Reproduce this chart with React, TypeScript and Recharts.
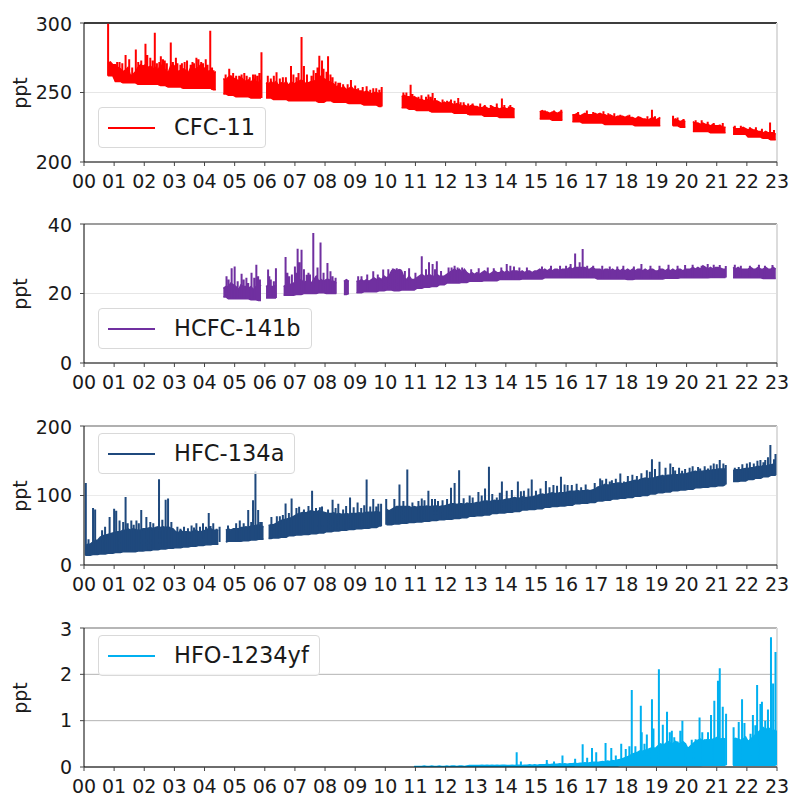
import React from "react";
import { ComposedChart, Area, Line, XAxis, YAxis, CartesianGrid, ReferenceLine } from "recharts";

const n = null;

const yearTicks = [2000, 2001, 2002, 2003, 2004, 2005, 2006, 2007, 2008, 2009, 2010, 2011, 2012, 2013, 2014, 2015, 2016, 2017, 2018, 2019, 2020, 2021, 2022, 2023];

// monthly upper edge of the dense band (null = no data), one row per year 2000..2022
const cfc11Top = [
  n, n, n, n, n, n, n, n, n, 271, 272, 270,
  270, 268, 267, 265, 266, 268, 262, 263, 265, 268, 270, 269,
  270, 268, 269, 267, 268, 266, 270, 268, 266, 264, 269, 270,
  268, 265, 266, 267, 266, 264, 268, 266, 267, 268, 270, 267,
  268, 265, 266, 264, 265, n, n, 260, 259, 261, 262, 260,
  260, 258, 261, 259, 258, 259, 257, 260, 258, 257, 259, n,
  257, 256, 258, 256, 258, 255, 257, 256, 258, 255, 258, 256,
  257, 258, 259, 258, 256, 257, 258, 258, 259, 260, 262, 260,
  259, 258, 257, 256, 254, 255, 253, 254, 252, 253, 254, 252,
  252, 251, 251, 250, 251, 250, 249, 250, 250, 249, 250, n,
  n, n, n, n, n, n, 247, 248, 247, 247, 246, 247,
  246, 245, 245, 244, 245, 244, 245, 243, 244, 243, 242, 243,
  242, 243, 242, 241, 242, 241, 240, 241, 240, 240, 241, 240,
  240, 239, 239, 240, 239, 238, 240, 239, 239, 238, 239, 239,
  238, 239, 239, 238, n, n, n, n, n, n, n, n,
  n, 236, 237, 236, 236, 235, 236, 236, 235, 236, 236, n,
  n, n, 234, 234, 235, 233, 234, 235, 234, 234, 234, 235,
  234, 235, 234, 234, 233, 234, 233, 232, 233, 233, 233, 232,
  233, 232, 232, 231, 232, 232, 231, 231, 230, 231, 232, 230,
  231, 232, n, n, n, n, 230, 231, 230, 229, 230, 229,
  n, n, 229, 228, 228, 227, 228, 227, 227, 226, 227, 226,
  226, 226, 225, 225, n, n, 225, 224, 224, 224, 225, 224,
  223, 224, 223, 223, 222, 222, 221, 222, 221, 221, 221, 220,
];

// quarterly lower edge of the band
const cfc11Low = [
  n, n, n, 262,
  258, 257, 257, 256,
  256, 256, 255, 254,
  254, 253, 253, 253,
  253, 252, 249, 248,
  247, 247, 246, 246,
  246, 245, 245, 244,
  244, 244, 244, 243,
  244, 243, 243, 242,
  242, 241, 241, 240,
  n, n, 239, 238,
  237, 237, 236, 236,
  236, 235, 235, 234,
  234, 233, 233, 232,
  232, 232, n, n,
  231, 231, 230, 230,
  229, 229, 228, 228,
  228, 227, 227, 227,
  227, 226, 226, 226,
  226, n, 226, 225,
  222, 222, 222, 221,
  221, 221, 220, 220,
  218, 218, 217, 216,
];

// [year, peak ppt]
const cfc11Spikes: [number, number][] = [
  [2000.80, 299.5], [2001.05, 270], [2001.10, 272], [2001.18, 272], [2001.27, 271], [2001.38, 277], [2001.50, 274],
  [2001.60, 268], [2001.72, 281], [2001.80, 272], [2001.90, 273], [2002.04, 285], [2002.10, 277], [2002.20, 275],
  [2002.28, 273], [2002.35, 293], [2002.42, 271], [2002.50, 272], [2002.55, 276], [2002.62, 274], [2002.68, 273],
  [2002.75, 271], [2002.88, 286], [2002.95, 272], [2003.05, 275], [2003.10, 271], [2003.20, 270], [2003.25, 271],
  [2003.34, 272], [2003.42, 273], [2003.54, 270], [2003.60, 272], [2003.65, 271], [2003.73, 275], [2003.80, 274],
  [2003.89, 272], [2003.95, 271], [2004.04, 274], [2004.10, 270], [2004.19, 294.5], [2004.25, 268], [2004.30, 266],
  [2004.70, 263], [2004.82, 267], [2004.95, 264], [2005.05, 262], [2005.15, 262], [2005.23, 263], [2005.32, 264],
  [2005.40, 262], [2005.50, 261], [2005.61, 263], [2005.68, 263], [2005.75, 262], [2005.82, 264], [2005.89, 279],
  [2006.10, 262], [2006.20, 260], [2006.30, 262], [2006.39, 264.5], [2006.50, 260], [2006.60, 261], [2006.70, 261],
  [2006.87, 269], [2006.95, 263], [2007.05, 261], [2007.12, 264], [2007.22, 290], [2007.30, 269], [2007.40, 263],
  [2007.55, 262], [2007.62, 266], [2007.70, 264], [2007.75, 268], [2007.81, 276.5], [2007.90, 273], [2007.95, 267],
  [2008.05, 265], [2008.10, 276], [2008.18, 263], [2008.25, 261], [2008.35, 258], [2008.44, 257], [2008.50, 257],
  [2008.60, 256], [2008.75, 256], [2008.86, 259], [2009.00, 255], [2009.10, 253], [2009.25, 254], [2009.38, 254.5],
  [2009.50, 252], [2009.60, 253], [2009.70, 253], [2009.80, 252], [2009.88, 254], [2010.60, 250], [2010.70, 250],
  [2010.84, 255.6], [2010.90, 249], [2011.10, 247], [2011.20, 248], [2011.35, 247], [2011.43, 248.5], [2011.50, 247],
  [2011.57, 249.6], [2011.65, 246], [2011.74, 243.6], [2011.90, 245], [2012.05, 244], [2012.18, 245], [2012.30, 244],
  [2012.42, 246], [2012.50, 243], [2012.60, 243], [2012.75, 242], [2012.90, 242], [2013.15, 242], [2013.30, 241],
  [2013.50, 241], [2013.70, 242], [2013.87, 245.6], [2013.95, 241], [2014.10, 240], [2014.15, 241], [2015.30, 237],
  [2015.60, 237], [2015.84, 237.6], [2016.40, 236], [2016.69, 237], [2016.90, 236], [2017.10, 235], [2017.24, 236.5],
  [2017.40, 235], [2017.60, 235], [2017.80, 234], [2018.10, 234], [2018.40, 233], [2018.70, 233], [2018.85, 237.6],
  [2018.95, 233], [2019.55, 233.3], [2019.70, 232], [2019.90, 231], [2020.30, 230], [2020.50, 230], [2020.70, 229],
  [2020.90, 228], [2021.10, 227], [2021.20, 228], [2021.60, 226], [2021.80, 226], [2022.10, 225], [2022.30, 225],
  [2022.50, 224], [2022.77, 228.5], [2022.90, 223],
];

const hcfc141bTop = [
  n, n, n, n, n, n, n, n, n, n, n, n,
  n, n, n, n, n, n, n, n, n, n, n, n,
  n, n, n, n, n, n, n, n, n, n, n, n,
  n, n, n, n, n, n, n, n, n, n, n, n,
  n, n, n, n, n, n, n, 21.5, 22, 22, 23, 22.5,
  22, 21, 22.5, 22, 22, 21.5, 22, 21, 22, 22, 22.5, n,
  22, 22.5, 22, 22, 22.5, n, n, 22, 22.5, 23, 22.5, 23,
  23, 23.5, 24, 23, 23.5, 23.5, 23, 24, 25, 23.5, 24, 23.5,
  24, 24, 23.5, 23.5, 23, n, n, 23.5, 24, 23.5, n, n,
  23.5, 23.5, 24, 23.5, 24, 23.5, 24, 24.5, 24, 24.5, 24, 25,
  24.5, 25, 26.5, 26.9, 26.5, 26.9, 26.5, 24.5, 24, 25, 24, 24,
  24.5, 25, 25.5, 25, 25, 25.5, 25, 25, 25.5, 25, 25, 25,
  25.5, 26, 26.5, 27, 26.5, 27, 26, 27, 26, 25.5, 26, 25.5,
  26, 25.5, 26, 26.5, 26, 25.5, 26, 26.5, 26, 26, 26.5, 26,
  26.5, 26, 26.5, 26.5, 26.5, 26, 26.5, 26, 26.5, 26.5, 26, 26.5,
  26.5, 27, 26.5, 27, 26.5, 27, 26.5, 27, 27, 26.5, 27, 27,
  27, 27.5, 27, 27.5, 27.5, 27.5, 27.5, 27.5, 27, 27, 27.5, 27,
  27, 27, 26.5, 27, 27, 26.5, 27, 26.5, 27, 26.5, 27, 26.5,
  27, 26.5, 27, 26.5, 27, 27, 26.5, 27, 26.5, 27, 27, 26.5,
  26.5, 27, 27, 26.5, 27, 26.5, 27, 26.5, 27, 27, 26.5, 27,
  27, 27, 27.5, 27, 27.5, 27, 28, 27.5, 27, 27.5, 27, 27.5,
  27.5, 27.3, 27, 27, n, n, 27.5, 27, 27.5, 27, 27, 27,
  27, 27.5, 27, 27, 27.5, 27, 27, 27.5, 27, 27, 27.5, 27,
];

const hcfc141bLow = [
  n, n, n, n,
  n, n, n, n,
  n, n, n, n,
  n, n, n, n,
  n, n, 19, 18.5,
  18.5, 18.5, 18.2, 18,
  18.7, 18.7, 19.5, 19.5,
  19.7, 20, 20, 20.2,
  20, 20, 19.7, 20,
  20.2, 20.5, 20.5, 20.8,
  21, 20.8, 21, 21,
  21.5, 21.8, 22, 22.5,
  23, 23, 23.2, 23.5,
  23.5, 23.7, 23.7, 24,
  24, 24, 24.2, 24.2,
  24.2, 24.5, 24.5, 24.5,
  24.5, 24.5, 24.5, 24.5,
  24.2, 24.2, 24.2, 24.2,
  24, 24.2, 24.2, 24.2,
  24.2, 24.4, 24.4, 24.5,
  24.5, 24.5, 24.5, 24.6,
  24.6, 24.6, 24.5, 24.5,
  24.5, 24.5, 24.3, 24.3,
];

const hcfc141bSpikes: [number, number][] = [
  [2004.73, 25], [2004.80, 24], [2004.90, 27.3], [2005.00, 27.8], [2005.10, 23.5], [2005.23, 25.7], [2005.30, 24],
  [2005.39, 24.5], [2005.45, 23], [2005.56, 26], [2005.65, 24.5], [2005.72, 28.3], [2005.78, 25], [2005.84, 24],
  [2006.11, 26.9], [2006.15, 25], [2006.20, 24], [2006.30, 23.5], [2006.37, 27.3], [2006.69, 30.5], [2006.75, 26],
  [2006.81, 25], [2006.90, 25.5], [2007.00, 27.8], [2007.05, 26], [2007.09, 32.9], [2007.15, 29], [2007.22, 32.6],
  [2007.30, 27], [2007.39, 25.4], [2007.45, 26], [2007.50, 25.5], [2007.61, 37.4], [2007.70, 25], [2007.75, 27.5],
  [2007.85, 34.7], [2007.95, 26], [2008.08, 28.8], [2008.18, 26.4], [2008.25, 25], [2008.35, 24.5], [2009.10, 25],
  [2009.21, 25], [2009.40, 25.5], [2009.60, 26.4], [2009.75, 25.5], [2009.93, 26.9], [2010.10, 27], [2010.25, 27.2],
  [2010.38, 27.3], [2010.50, 27], [2010.65, 26.5], [2010.79, 27.3], [2011.00, 26], [2011.21, 30.7], [2011.35, 27],
  [2011.45, 29], [2011.57, 28.5], [2011.65, 27], [2011.71, 29.3], [2011.85, 26.5], [2012.10, 27.5], [2012.20, 27.5],
  [2012.30, 28], [2012.40, 27.5], [2012.55, 27.5], [2012.85, 27], [2013.10, 27.3], [2013.40, 27.5], [2013.60, 27.3],
  [2013.85, 27.5], [2014.03, 28.5], [2014.15, 28], [2014.27, 27.8], [2014.45, 27.5], [2014.70, 27.5], [2015.20, 27.8],
  [2015.50, 28], [2015.80, 28], [2016.00, 28], [2016.15, 28.5], [2016.30, 31.5], [2016.45, 29], [2016.55, 32.8],
  [2016.70, 28], [2016.90, 28], [2017.20, 28], [2017.45, 27.8], [2017.70, 27.8], [2017.90, 28], [2018.25, 27.8],
  [2018.50, 28.5], [2018.80, 28], [2019.10, 28], [2019.40, 28.3], [2019.70, 28], [2019.95, 28.2], [2020.20, 28.3],
  [2020.50, 28], [2020.70, 28.5], [2020.90, 28.3], [2021.10, 28.2], [2021.30, 27.9], [2021.60, 28.3], [2021.80, 28],
  [2022.10, 28], [2022.40, 28.3], [2022.60, 28], [2022.85, 28.2],
];

const hfc134aTop = [
  28, 30, 30, 33, 35, 36, 40, 42, 43, 44, 45, 46,
  47, 48, 48, 50, 50, 52, 50, 52, 51, 50, 50, 52,
  52, 53, 54, 52, 54, 55, 54, 55, 54, 55, 53, 52,
  48, 46, 50, 47, 48, 48, 47, 49, 50, 48, 48, 49,
  50, 52, 52, 50, 50, 50, n, n, 50, 52, 50, 52,
  52, 52, 54, 54, 55, 54, 56, 56, 57, 58, 56, 55,
  n, 57, 58, 58, 60, 62, 64, 65, 66, 67, 68, 70,
  72, 74, 75, 76, 75, 77, 78, 77, 76, 78, 77, 76,
  75, 74, 74, 75, 73, 74, 73, 73, 74, 73, 74, 74,
  74, 75, 74, 75, 76, 76, 76, 76, 77, 76, 76, n,
  80, 78, 80, 82, 84, 84, 84, 84, 84, 84, 82, 84,
  83, 84, 84, 84, 85, 84, 84, 85, 85, 84, 85, 85,
  86, 87, 88, 88, 87, 88, 88, 87, 89, 88, 88, 89,
  90, 90, 91, 92, 92, 91, 92, 93, 92, 93, 93, 94,
  95, 95, 96, 97, 96, 96, 98, 97, 97, 98, 98, 99,
  100, 101, 102, 101, 102, 103, 104, 103, 103, 104, 104, 104,
  105, 106, 106, 106, 107, 106, 107, 107, 108, 107, 108, 109,
  112, 113, 114, 116, 115, 115, 117, 117, 118, 118, 117, 118,
  119, 120, 121, 122, 121, 123, 124, 125, 124, 125, 125, 126,
  127, 128, 128, 128, 129, 129, 130, 130, 130, 131, 131, 131,
  132, 133, 134, 134, 134, 135, 135, 136, 136, 136, 137, 137,
  138, 138, 138, 138, n, n, 136, 137, 137, 137, 138, 139,
  139, 140, 140, 141, 142, 141, 143, 142, 144, 144, 145, 145,
];

const hfc134aLow = [
  14, 15, 16, 17,
  18, 19, 19, 20,
  21, 22, 23, 24,
  25, 26, 27, 28,
  29, 30, 33, 34,
  34, 35, 36, 37,
  38, 39, 40, 42,
  43, 44, 45, 46,
  48, 49, 50, 51,
  52, 53, 54, 56,
  58, 59, 60, 61,
  62, 63, 64, 65,
  66, 67, 68, 70,
  71, 72, 74, 75,
  76, 77, 79, 80,
  81, 83, 84, 85,
  86, 88, 89, 90,
  92, 93, 95, 96,
  97, 99, 100, 102,
  104, 105, 107, 108,
  109, 111, 112, 113,
  114, 116, 120, 121,
  123, 125, 127, 129,
];

const hfc134aSpikes: [number, number][] = [
  [2000.06, 118], [2000.15, 37], [2000.30, 82], [2000.37, 80], [2000.60, 50], [2000.70, 55], [2000.85, 69],
  [2001.00, 81], [2001.07, 78], [2001.18, 64], [2001.30, 62], [2001.38, 98], [2001.45, 60], [2001.57, 64],
  [2001.65, 58], [2001.74, 64], [2001.82, 60], [2001.90, 79], [2002.07, 69], [2002.20, 62], [2002.30, 60],
  [2002.49, 123.5], [2002.60, 65], [2002.71, 94], [2002.79, 95.7], [2002.90, 62], [2003.10, 55], [2003.20, 52],
  [2003.32, 55], [2003.45, 53], [2003.57, 57], [2003.65, 54], [2003.73, 60], [2003.85, 55], [2003.95, 60],
  [2004.05, 55], [2004.14, 75], [2004.20, 56], [2004.29, 60], [2004.40, 52], [2004.50, 55], [2004.78, 57],
  [2005.05, 60], [2005.17, 64], [2005.30, 60], [2005.45, 79], [2005.55, 62], [2005.61, 93], [2005.69, 135],
  [2005.78, 79], [2005.85, 62], [2005.90, 62], [2006.22, 69], [2006.40, 70], [2006.50, 70], [2006.60, 72],
  [2006.69, 88.5], [2006.80, 75], [2006.89, 95.7], [2007.05, 82], [2007.14, 83.7], [2007.30, 80], [2007.45, 85],
  [2007.57, 106.7], [2007.70, 82], [2007.83, 83], [2007.90, 84], [2008.10, 80], [2008.25, 94], [2008.35, 82],
  [2008.44, 88], [2008.60, 80], [2008.70, 85], [2008.83, 97], [2008.95, 83], [2009.08, 90], [2009.20, 82],
  [2009.30, 86], [2009.38, 123], [2009.50, 84], [2009.60, 95], [2009.70, 84], [2009.77, 88], [2009.86, 88],
  [2010.03, 95], [2010.30, 95], [2010.47, 116], [2010.60, 92], [2010.73, 137.5], [2010.90, 90], [2011.10, 92],
  [2011.21, 95.7], [2011.30, 93], [2011.43, 106.7], [2011.55, 95], [2011.65, 95], [2011.75, 92], [2011.90, 93],
  [2012.05, 95], [2012.18, 111], [2012.30, 118], [2012.45, 136.5], [2012.60, 96], [2012.80, 100], [2012.90, 97],
  [2013.09, 105], [2013.20, 100], [2013.31, 110], [2013.44, 141.3], [2013.55, 102], [2013.70, 97], [2013.80, 104],
  [2013.87, 120], [2014.03, 107], [2014.20, 108], [2014.40, 120], [2014.50, 106], [2014.60, 107], [2014.75, 110],
  [2014.86, 123], [2015.00, 107], [2015.15, 110], [2015.33, 120.7], [2015.45, 112], [2015.58, 115], [2015.70, 114],
  [2015.83, 127], [2015.95, 116], [2016.05, 115], [2016.19, 115], [2016.35, 117], [2016.50, 112], [2016.65, 116],
  [2016.80, 108], [2016.95, 118], [2017.13, 124.5], [2017.20, 122], [2017.33, 124], [2017.45, 120], [2017.52, 122],
  [2017.65, 124], [2017.80, 131.7], [2017.92, 120], [2018.05, 128], [2018.20, 130], [2018.35, 128], [2018.50, 132],
  [2018.68, 136.5], [2018.78, 134], [2018.85, 152], [2018.95, 138], [2019.02, 127], [2019.10, 148.5], [2019.20, 130],
  [2019.30, 140], [2019.46, 146], [2019.55, 141], [2019.62, 136], [2019.75, 140], [2019.85, 135.6], [2019.95, 138],
  [2020.10, 140], [2020.20, 142], [2020.29, 136], [2020.38, 141], [2020.45, 139], [2020.60, 142], [2020.71, 139],
  [2020.80, 143], [2020.90, 146], [2021.00, 145], [2021.10, 151], [2021.22, 146], [2021.30, 144], [2021.60, 140],
  [2021.73, 141], [2021.85, 145], [2022.00, 146], [2022.10, 148], [2022.23, 146], [2022.35, 150], [2022.45, 151],
  [2022.55, 148], [2022.61, 151], [2022.70, 155], [2022.78, 172.6], [2022.87, 145], [2022.90, 152], [2022.95, 159.6],
];

const hfo1234yfTop = [
  n, n, n, n, n, n, n, n, n, n, n, n,
  n, n, n, n, n, n, n, n, n, n, n, n,
  n, n, n, n, n, n, n, n, n, n, n, n,
  n, n, n, n, n, n, n, n, n, n, n, n,
  n, n, n, n, n, n, n, n, n, n, n, n,
  n, n, n, n, n, n, n, n, n, n, n, n,
  n, n, n, n, n, n, n, n, n, n, n, n,
  n, n, n, n, n, n, n, n, n, n, n, n,
  n, n, n, n, n, n, n, n, n, n, n, n,
  n, n, n, n, n, n, n, n, n, n, n, n,
  n, n, n, n, n, n, n, n, n, n, n, 0.01,
  0.01, 0.01, 0.01, 0.02, 0.01, 0.01, 0.02, 0.01, 0.01, 0.02, 0.01, 0.01,
  0.02, 0.01, 0.02, 0.02, 0.01, 0.02, 0.02, 0.01, 0.02, 0.03, 0.03, 0.03,
  0.03, 0.03, 0.04, 0.03, 0.04, 0.03, 0.04, 0.03, 0.04, 0.03, 0.04, 0.04,
  0.03, 0.03, 0.04, 0.03, 0.04, 0.04, 0.03, 0.04, 0.04, 0.05, 0.04, 0.05,
  0.04, 0.05, 0.05, 0.05, 0.06, 0.05, 0.06, 0.06, 0.06, 0.07, 0.06, 0.07,
  0.06, 0.07, 0.07, 0.08, 0.07, 0.08, 0.08, 0.09, 0.08, 0.09, 0.1, 0.1,
  0.1, 0.11, 0.12, 0.11, 0.13, 0.12, 0.14, 0.13, 0.15, 0.16, 0.18, 0.2,
  0.22, 0.25, 0.28, 0.3, 0.32, 0.35, 0.34, 0.36, 0.38, 0.4, 0.42, 0.4,
  0.45, 0.5, 0.48, 0.5, 0.55, 0.52, 0.5, 0.55, 0.52, 0.5, 0.55, 0.5,
  0.4, 0.45, 0.5, 0.55, 0.58, 0.6, 0.56, 0.58, 0.6, 0.58, 0.6, 0.62,
  0.65, 0.6, 0.62, 0.6, n, n, 0.6, 0.62, 0.6, 0.58, 0.6, 0.65,
  0.55, 0.6, 0.65, 0.7, 0.75, 0.8, 0.85, 0.8, 0.85, 0.8, 0.78, 0.8,
];

const hfo1234yfLow = [
  n, n, n, n,
  n, n, n, n,
  n, n, n, n,
  n, n, n, n,
  n, n, n, n,
  n, n, n, n,
  n, n, n, n,
  n, n, n, n,
  n, n, n, n,
  n, n, n, n,
  n, n, n, 0,
  0, 0, 0, 0,
  0, 0, 0, 0,
  0, 0, 0.01, 0.01,
  0.01, 0.01, 0.01, 0.01,
  0.01, 0.01, 0.01, 0.01,
  0.01, 0.02, 0.02, 0.02,
  0.02, 0.02, 0.02, 0.03,
  0.03, 0.03, 0.03, 0.03,
  0.03, 0.03, 0.03, 0.03,
  0.03, 0.03, 0.04, 0.04,
  0.04, 0.04, 0.04, 0.04,
  0.04, 0.04, 0.04, 0.04,
];

const hfo1234yfSpikes: [number, number][] = [
  [2014.36, 0.32], [2014.50, 0.12], [2015.36, 0.15], [2015.60, 0.12], [2015.88, 0.25], [2016.30, 0.18], [2016.55, 0.49],
  [2016.70, 0.2], [2016.86, 0.41], [2017.00, 0.32], [2017.31, 0.52], [2017.50, 0.41], [2017.65, 0.25], [2017.83, 0.5],
  [2017.98, 0.39], [2018.10, 0.45], [2018.18, 1.66], [2018.30, 0.45], [2018.48, 1.32], [2018.51, 0.75], [2018.60, 0.5],
  [2018.68, 0.7], [2018.85, 1.46], [2018.90, 0.83], [2019.08, 2.11], [2019.21, 0.91], [2019.35, 1.19], [2019.44, 0.75],
  [2019.51, 0.78], [2019.59, 0.64], [2019.70, 0.55], [2019.79, 0.78], [2019.86, 1.0], [2019.95, 0.52], [2020.17, 0.59],
  [2020.30, 0.6], [2020.43, 1.07], [2020.52, 0.75], [2020.60, 0.6], [2020.71, 0.75], [2020.81, 1.12], [2020.92, 1.43],
  [2021.04, 1.86], [2021.10, 2.13], [2021.20, 1.3], [2021.31, 1.15], [2021.56, 0.86], [2021.65, 0.6], [2021.73, 0.97],
  [2021.84, 1.46], [2021.92, 0.95], [2022.06, 0.57], [2022.12, 0.72], [2022.20, 1.12], [2022.28, 0.9], [2022.34, 1.77],
  [2022.45, 1.36], [2022.50, 1.41], [2022.61, 1.0], [2022.70, 1.24], [2022.80, 2.8], [2022.87, 1.8], [2022.95, 2.48],
  [2022.99, 0.79],
];

type Row = { x: number; band?: [number, number] | null; spike?: number | null };

// band rows per month, then each spike as a separate vertical segment
function buildRows(top: (number | null)[], lowQ: (number | null)[], spikes: [number, number][]): Row[] {
  const rows: Row[] = top.map((hi, m) => {
    const lo = lowQ[Math.floor(m / 3)];
    return { x: 2000 + (m + 0.5) / 12, band: hi == null || lo == null ? null : [lo, hi] };
  });
  spikes.forEach(([yr, peak]) => {
    const m = Math.min(top.length - 1, Math.floor((yr - 2000) * 12));
    const base = lowQ[Math.floor(m / 3)] ?? peak;
    rows.push({ x: yr, spike: base }, { x: yr, spike: peak }, { x: yr, spike: null });
  });
  return rows;
}

const panels = [
  { name: "CFC-11", color: "#ff0000", top: 13, domain: [200, 300], ticks: [200, 250, 300], grid: "#e6e6e6", topSpine: "#000000", legendTop: 107, rows: buildRows(cfc11Top, cfc11Low, cfc11Spikes) },
  { name: "HCFC-141b", color: "#7030a0", top: 214, domain: [0, 40], ticks: [0, 20, 40], grid: "#e6e6e6", topSpine: "#808080", legendTop: 308, rows: buildRows(hcfc141bTop, hcfc141bLow, hcfc141bSpikes) },
  { name: "HFC-134a", color: "#1f497d", top: 416, domain: [0, 200], ticks: [0, 100, 200], grid: "#ebebeb", topSpine: "#999999", legendTop: 433, rows: buildRows(hfc134aTop, hfc134aLow, hfc134aSpikes) },
  { name: "HFO-1234yf", color: "#00b0f0", top: 618, domain: [0, 3], ticks: [0, 1, 2, 3], grid: "#b4b4b4", topSpine: "#aaaaaa", legendTop: 635, rows: buildRows(hfo1234yfTop, hfo1234yfLow, hfo1234yfSpikes) },
];

const FONT = '"DejaVu Sans", sans-serif';
const tickStyle = { fontSize: 19, fill: "#1a1a1a", fontFamily: FONT };

export default function App() {
  return (
    <div style={{ position: "absolute", left: 0, top: 0, width: 790, height: 796, background: "#fff", fontFamily: FONT }}>
      {panels.map((p) => (
        <React.Fragment key={p.name}>
          <div style={{ position: "absolute", left: 0, top: p.top }}>
            <ComposedChart width={790} height={179} data={p.rows} margin={{ top: 10, right: 13, bottom: 0, left: 24 }}>
              <CartesianGrid vertical={false} stroke={p.grid} />
              <XAxis
                dataKey="x"
                type="number"
                domain={[2000, 2023]}
                ticks={yearTicks}
                interval={0}
                allowDataOverflow
                tickFormatter={(v: number) => String(v).slice(2)}
                tick={tickStyle}
                tickSize={4}
                tickMargin={9}
                height={30}
                axisLine={{ stroke: "#000" }}
                tickLine={{ stroke: "#444" }}
              />
              <YAxis
                type="number"
                domain={p.domain}
                ticks={p.ticks}
                allowDataOverflow
                width={60}
                tick={tickStyle}
                tickSize={4}
                tickMargin={8}
                axisLine={{ stroke: "#000" }}
                tickLine={{ stroke: "#444" }}
              />
              <ReferenceLine y={p.domain[1]} stroke={p.topSpine} strokeWidth={1.3} />
              <ReferenceLine x={2023} stroke="#dcdcdc" strokeWidth={2} />
              <Area
                type="linear"
                dataKey="band"
                stroke={p.color}
                strokeWidth={1.5}
                fill={p.color}
                fillOpacity={1}
                dot={false}
                activeDot={false}
                connectNulls={false}
                isAnimationActive={false}
              />
              <Line
                type="linear"
                dataKey="spike"
                stroke={p.color}
                strokeWidth={2}
                dot={false}
                activeDot={false}
                connectNulls={false}
                isAnimationActive={false}
              />
            </ComposedChart>
          </div>
          <div
            style={{
              position: "absolute",
              left: 20,
              top: p.top + 10 + 69.5,
              transform: "translate(-50%, -50%) rotate(-90deg)",
              fontSize: 19,
              lineHeight: 1,
              color: "#1a1a1a",
            }}
          >
            ppt
          </div>
          <div
            style={{
              position: "absolute",
              left: 98,
              top: p.legendTop,
              height: 41,
              boxSizing: "border-box",
              border: "1px solid #d9d9d9",
              borderRadius: 4,
              background: "rgba(255,255,255,0.8)",
              display: "flex",
              alignItems: "center",
              paddingLeft: 9,
              paddingRight: 10,
            }}
          >
            <div style={{ width: 47, height: 2, background: p.color }} />
            <span style={{ marginLeft: 19, fontSize: 22.5, lineHeight: 1, color: "#1a1a1a" }}>{p.name}</span>
          </div>
        </React.Fragment>
      ))}
    </div>
  );
}
